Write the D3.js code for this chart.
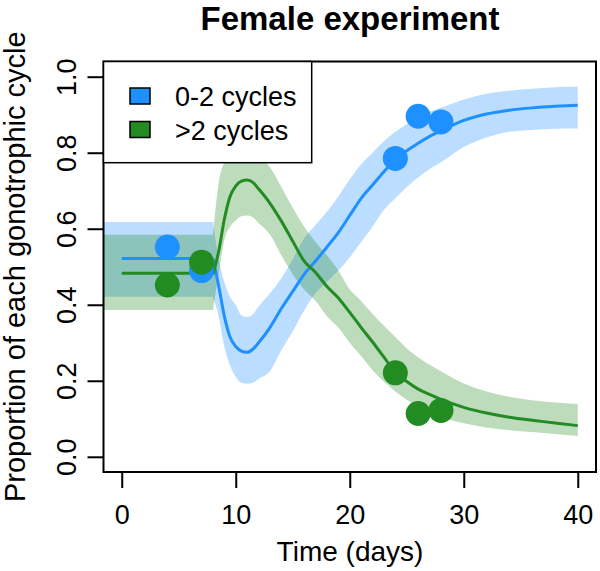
<!DOCTYPE html>
<html>
<head>
<meta charset="utf-8">
<script src="https://cdn.jsdelivr.net/npm/d3@7"></script>
<style>
  html, body { margin: 0; padding: 0; background: #fff; }
  svg text { font-family: "Liberation Sans", Arial, sans-serif; fill: #000; }
</style>
</head>
<body>
<svg id="chart" width="600" height="571"></svg>
<script>
// ---------------- data ----------------
const seriesNames = ["0-2 cycles", ">2 cycles"];
const seriesColors = ["#1E90FF", "#228B22"];

// observed points (day, proportion)
const obsDays = [4, 7, 24, 26, 28];
const obsBlue = [0.552, 0.49, 0.785, 0.896, 0.881];
const obsGreen = [0.452, 0.512, 0.221, 0.114, 0.122];

// constant phase (before day 8)
const flatLineDays = [0, 8];
const flatBandDays = [-2, 8];
const flatBlue = [0.522, 0.522];
const flatBlueLo = [0.421, 0.421];
const flatBlueHi = [0.618, 0.618];
const flatGreen = [0.483, 0.483];
const flatGreenLo = [0.386, 0.386];
const flatGreenHi = [0.584, 0.584];

// dynamic phase (model fit)
const fitDays = [8, 8.5, 9, 9.5, 10, 10.5, 11, 11.5, 12, 13, 14, 15, 16, 17, 18, 19, 20,
                 21, 22, 23, 24, 25, 26, 27, 28, 30, 32, 34, 36, 38, 40];
const fitBlue = [0.52, 0.45, 0.37, 0.315, 0.29, 0.278, 0.275, 0.283, 0.30, 0.34, 0.39, 0.435,
                 0.48, 0.515, 0.552, 0.59, 0.635, 0.68, 0.715, 0.75, 0.782, 0.805, 0.825,
                 0.843, 0.858, 0.885, 0.902, 0.912, 0.918, 0.922, 0.925];
const fitBlueLo = [0.42, 0.37, 0.29, 0.24, 0.21, 0.195, 0.192, 0.195, 0.205, 0.225, 0.28, 0.33,
                   0.385, 0.43, 0.46, 0.49, 0.525, 0.565, 0.605, 0.65, 0.68, 0.71, 0.735,
                   0.757, 0.775, 0.815, 0.84, 0.855, 0.86, 0.863, 0.864];
const fitBlueHi = [0.62, 0.52, 0.46, 0.42, 0.40, 0.372, 0.368, 0.375, 0.395, 0.43, 0.47, 0.52,
                   0.575, 0.61, 0.645, 0.685, 0.73, 0.77, 0.80, 0.83, 0.855, 0.875, 0.893,
                   0.908, 0.918, 0.94, 0.955, 0.963, 0.968, 0.972, 0.974];
const fitGreen = [0.48, 0.54, 0.625, 0.685, 0.712, 0.725, 0.728, 0.722, 0.705, 0.667, 0.62,
                  0.567, 0.515, 0.485, 0.448, 0.418, 0.38, 0.34, 0.302, 0.262, 0.222, 0.198,
                  0.178, 0.164, 0.151, 0.13, 0.115, 0.104, 0.096, 0.089, 0.082];
const fitGreenLo = [0.387, 0.48, 0.57, 0.605, 0.622, 0.633, 0.635, 0.63, 0.615, 0.585, 0.53,
                    0.48, 0.44, 0.41, 0.37, 0.34, 0.30, 0.265, 0.228, 0.198, 0.172, 0.15,
                    0.132, 0.117, 0.105, 0.088, 0.077, 0.07, 0.065, 0.06, 0.055];
const fitGreenHi = [0.584, 0.72, 0.775, 0.795, 0.805, 0.811, 0.81, 0.80, 0.79, 0.762, 0.71,
                    0.655, 0.605, 0.565, 0.53, 0.49, 0.44, 0.41, 0.376, 0.345, 0.315, 0.285,
                    0.262, 0.242, 0.225, 0.193, 0.172, 0.158, 0.149, 0.143, 0.139];

const xTicks = [0, 10, 20, 30, 40];
const yTicks = [0.0, 0.2, 0.4, 0.6, 0.8, 1.0];
const yTickLabels = ["0.0", "0.2", "0.4", "0.6", "0.8", "1.0"];

const titleText = "Female experiment";
const xLabel = "Time (days)";
const yLabel = "Proportion of each gonotrophic cycle";

// ---------------- layout ----------------
const L = 103.5, R = 596, T = 61.5, B = 472;
const svg = d3.select("#chart");

const x = d3.scaleLinear().domain([-1.6, 41.6]).range([L, R]);
const y = d3.scaleLinear().domain([-0.04, 1.04]).range([B, T]);

svg.append("defs").append("clipPath").attr("id", "plotclip")
  .append("rect").attr("x", L).attr("y", T).attr("width", R - L).attr("height", B - T);

const plot = svg.append("g").attr("clip-path", "url(#plotclip)");

function bandData(days, lo, hi) { return days.map((d, i) => ({ d, lo: lo[i], hi: hi[i] })); }
function lineData(days, v) { return days.map((d, i) => ({ d, v: v[i] })); }

const area = d3.area().x(p => x(p.d)).y0(p => y(p.lo)).y1(p => y(p.hi)).curve(d3.curveMonotoneX);
const areaFlat = d3.area().x(p => x(p.d)).y0(p => y(p.lo)).y1(p => y(p.hi));
const line = d3.line().x(p => x(p.d)).y(p => y(p.v)).curve(d3.curveMonotoneX);
const lineFlat = d3.line().x(p => x(p.d)).y(p => y(p.v));

const bandAlpha = 0.3;
// bands: blue then green
plot.append("path").attr("d", areaFlat(bandData(flatBandDays, flatBlueLo, flatBlueHi)))
  .attr("fill", seriesColors[0]).attr("fill-opacity", bandAlpha);
plot.append("path").attr("d", area(bandData(fitDays, fitBlueLo, fitBlueHi)))
  .attr("fill", seriesColors[0]).attr("fill-opacity", bandAlpha);
plot.append("path").attr("d", areaFlat(bandData(flatBandDays, flatGreenLo, flatGreenHi)))
  .attr("fill", seriesColors[1]).attr("fill-opacity", bandAlpha);
plot.append("path").attr("d", area(bandData(fitDays, fitGreenLo, fitGreenHi)))
  .attr("fill", seriesColors[1]).attr("fill-opacity", bandAlpha);

// lines
[[flatBlue, fitBlue, 0], [flatGreen, fitGreen, 1]].forEach(([fl, ft, k]) => {
  plot.append("path").attr("d", lineFlat(lineData(flatLineDays, fl)))
    .attr("fill", "none").attr("stroke", seriesColors[k]).attr("stroke-width", 3);
  plot.append("path").attr("d", line(lineData(fitDays, ft)))
    .attr("fill", "none").attr("stroke", seriesColors[k]).attr("stroke-width", 3);
});

// points
[[obsBlue, 0], [obsGreen, 1]].forEach(([vals, k]) => {
  plot.selectAll(null).data(obsDays.map((d, i) => ({ d, v: vals[i] }))).enter()
    .append("circle").attr("cx", p => x(p.d)).attr("cy", p => y(p.v)).attr("r", 12.5)
    .attr("fill", seriesColors[k]);
});

// box
svg.append("rect").attr("x", L).attr("y", T).attr("width", R - L).attr("height", B - T)
  .attr("fill", "none").attr("stroke", "#000").attr("stroke-width", 2);

// x axis
const xAxis = d3.axisBottom(x).tickValues(xTicks).tickSize(16).tickSizeOuter(0).tickFormat(d3.format("d"));
const gx = svg.append("g").attr("transform", `translate(0,${B})`).call(xAxis);
gx.select(".domain").remove();
gx.selectAll(".tick line").attr("stroke", "#000").attr("stroke-width", 2);
gx.selectAll(".tick text").attr("y", 0).attr("dy", 0).attr("transform", "translate(0,52)")
  .attr("font-size", 27).attr("font-family", "Liberation Sans, Arial, sans-serif").attr("fill", "#000");

// y axis
const yAxis = d3.axisLeft(y).tickValues(yTicks).tickSize(16).tickSizeOuter(0)
  .tickFormat((d, i) => yTickLabels[i]);
const gy = svg.append("g").attr("transform", `translate(${L},0)`).call(yAxis);
gy.select(".domain").remove();
gy.selectAll(".tick line").attr("stroke", "#000").attr("stroke-width", 2);
gy.selectAll(".tick text").attr("x", 0).attr("dy", 0).attr("text-anchor", "middle")
  .attr("transform", "translate(-28,0) rotate(-90)")
  .attr("font-size", 27).attr("font-family", "Liberation Sans, Arial, sans-serif").attr("fill", "#000");

// title & labels
svg.append("text").attr("x", 350).attr("y", 30).attr("text-anchor", "middle")
  .attr("font-size", 33).attr("font-weight", "bold").text(titleText);
svg.append("text").attr("x", 350).attr("y", 561).attr("text-anchor", "middle")
  .attr("font-size", 28).text(xLabel);
svg.append("text").attr("transform", `translate(25,${(T + B) / 2}) rotate(-90)`)
  .attr("text-anchor", "middle").attr("font-size", 29).text(yLabel);

// legend
const lg = svg.append("g");
lg.append("rect").attr("x", L).attr("y", T).attr("width", 311.7 - L).attr("height", 162.7 - T)
  .attr("fill", "#fff").attr("stroke", "#000").attr("stroke-width", 1.5);
seriesNames.forEach((name, i) => {
  const cy = 96 + i * 33.5;
  lg.append("rect").attr("x", 130).attr("y", cy - 8).attr("width", 20).attr("height", 16)
    .attr("fill", seriesColors[i]).attr("stroke", "#000").attr("stroke-width", 1.5);
  lg.append("text").attr("x", 175).attr("y", cy + 10).attr("font-size", 27).text(name);
});
</script>
</body>
</html>
